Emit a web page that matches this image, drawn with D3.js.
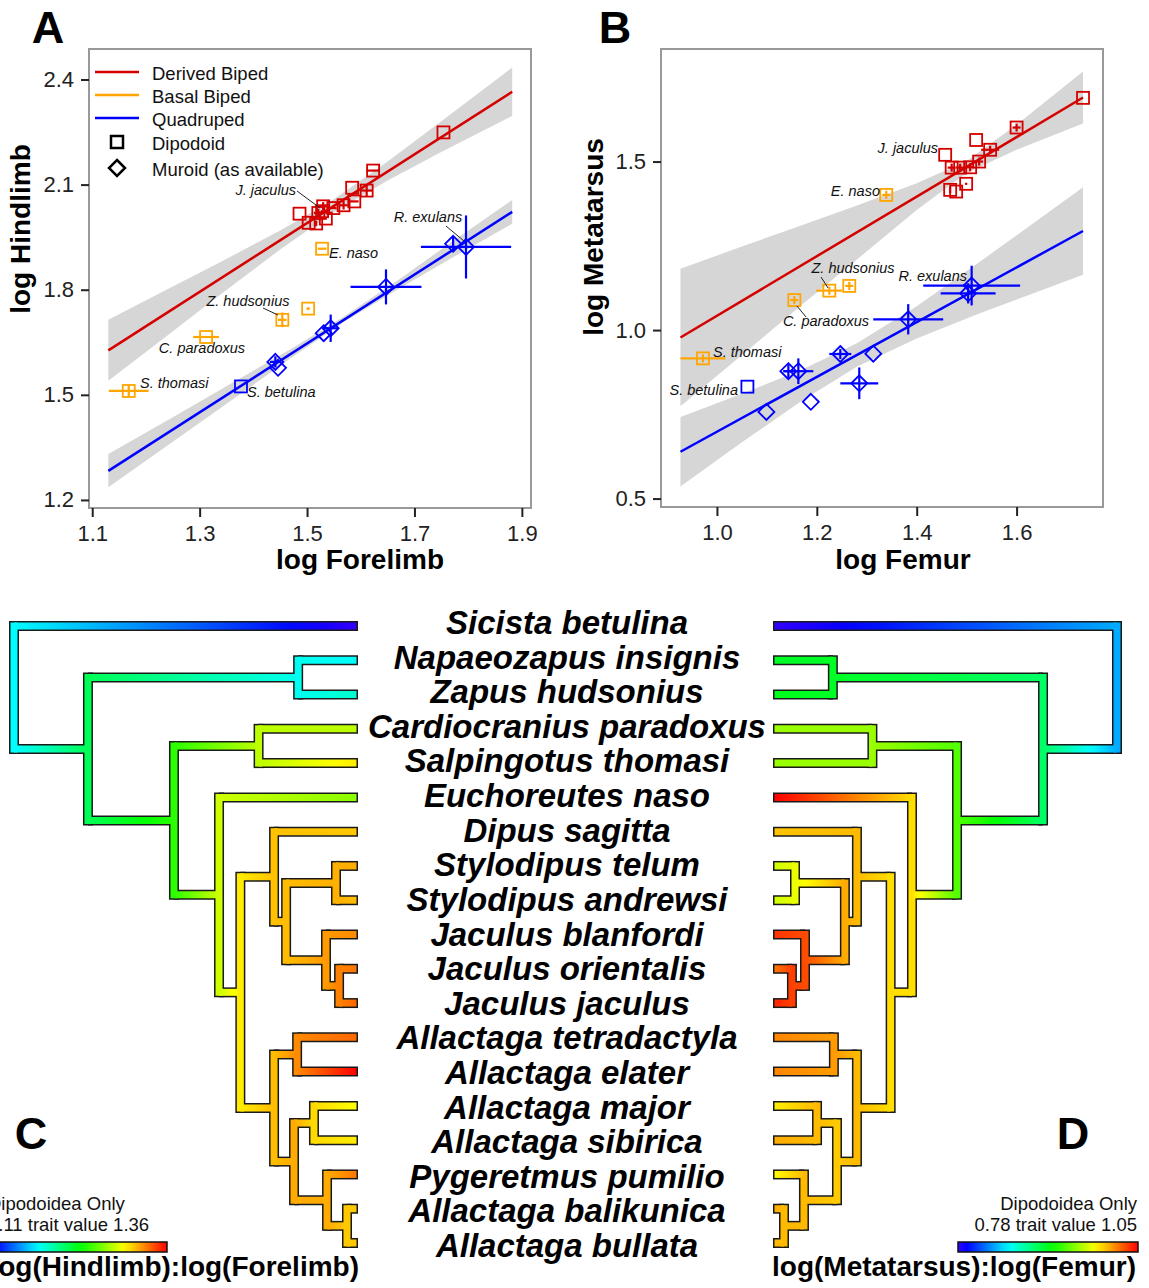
<!DOCTYPE html>
<meta charset="utf-8"/>
<style>
body { margin: 0; background: #fff; }
svg { display: block; font-family: "Liberation Sans", Arial, Helvetica, sans-serif; }
</style>
<svg width="1149" height="1288"></svg>
<script src="https://d3js.org/d3.v7.min.js"></script>
<script>

// ---------- panel A : log Forelimb vs log Hindlimb  [x, y, xerr, yerr, shape] ----------
var aDerived = [
  [1.754, 2.249, 0, 0, "s"], [1.623, 2.140, 0.013, 0, "s"], [1.584, 2.091, 0, 0, "s"],
  [1.611, 2.083, 0.010, 0.018, "s"], [1.588, 2.052, 0.008, 0, "s"], [1.568, 2.041, 0.008, 0.012, "s"],
  [1.549, 2.033, 0.006, 0, "s"], [1.530, 2.038, 0.008, 0.012, "s"], [1.528, 2.024, 0.002, 0, "s"],
  [1.535, 2.003, 0.002, 0, "s"], [1.486, 2.017, 0, 0, "s"], [1.503, 1.991, 0, 0, "s"],
  [1.517, 1.989, 0, 0.008, "s"], [1.521, 2.019, 0.008, 0.012, "s"]
];
var aBasal = [
  [1.528, 1.917, 0.008, 0, "s"], [1.502, 1.746, 0.003, 0.003, "s"], [1.454, 1.714, 0.008, 0.021, "s"],
  [1.312, 1.665, 0.024, 0, "s"], [1.168, 1.511, 0.037, 0.015, "s"]
];
var aQuad = [
  [1.377, 1.524, 0, 0, "s"], [1.441, 1.594, 0.010, 0.016, "d"], [1.446, 1.577, 0, 0, "d"],
  [1.531, 1.676, 0, 0, "d"], [1.544, 1.690, 0.015, 0.039, "d"], [1.647, 1.808, 0.066, 0.050, "d"],
  [1.772, 1.931, 0, 0.020, "d"], [1.796, 1.922, 0.084, 0.090, "d"]
];
var aDerivedFit = [[1.13, 1.627], [1.882, 2.365]];
var aQuadFit = [[1.13, 1.283], [1.882, 2.022]];
// confidence bands [x, lower, upper]
var aDerivedBand = [[1.13, 1.540, 1.714], [1.24, 1.669, 1.801], [1.34, 1.788, 1.880], [1.45, 1.915, 1.969],
  [1.55, 2.022, 2.058], [1.65, 2.112, 2.166], [1.75, 2.193, 2.281], [1.882, 2.296, 2.434]];
var aQuadBand = [[1.13, 1.236, 1.331], [1.25, 1.366, 1.436], [1.37, 1.496, 1.542], [1.47, 1.605, 1.631],
  [1.57, 1.709, 1.725], [1.67, 1.802, 1.828], [1.77, 1.891, 1.937], [1.882, 1.988, 2.056]];
var aLabels = [
  ["J. jaculus", 1.4794, 2.0703, "end", [1.4813, 2.0817, 1.5241, 2.0332]],
  ["R. exulans", 1.7252, 1.9932, "middle", [1.7587, 1.9818, 1.7922, 1.9390]],
  ["E. naso", 1.5409, 1.8905, "start", null],
  ["Z. hudsonius", 1.3900, 1.7535, "middle", [1.4180, 1.7478, 1.4459, 1.7278]],
  ["C. paradoxus", 1.3044, 1.6193, "middle", null],
  ["S. thomasi", 1.1890, 1.5195, "start", null],
  ["S. betulina", 1.3882, 1.4938, "start", null]
];
var aTicksX = [1.1, 1.3, 1.5, 1.7, 1.9];
var aTicksY = [1.2, 1.5, 1.8, 2.1, 2.4];

// ---------- panel B : log Femur vs log Metatarsus ----------
var bDerived = [
  [1.733, 1.689, 0, 0, "s"], [1.600, 1.601, 0.008, 0.012, "s"], [1.519, 1.564, 0, 0, "s"],
  [1.547, 1.535, 0.018, 0.012, "s"], [1.457, 1.520, 0, 0, "s"], [1.525, 1.500, 0.008, 0.012, "s"],
  [1.507, 1.483, 0.008, 0.012, "s"], [1.487, 1.482, 0.008, 0.012, "s"], [1.470, 1.482, 0.008, 0.012, "s"],
  [1.499, 1.434, 0.002, 0.002, "s"], [1.467, 1.416, 0, 0.010, "s"], [1.479, 1.411, 0, 0, "s"]
];
var bBasal = [
  [1.339, 1.401, 0.008, 0.012, "s"], [1.265, 1.131, 0.008, 0.012, "s"], [1.225, 1.117, 0.026, 0.012, "s"],
  [1.155, 1.089, 0.008, 0.012, "s"], [0.972, 0.916, 0.045, 0.012, "s"]
];
var bQuad = [
  [1.061, 0.832, 0, 0, "s"], [1.099, 0.757, 0, 0, "d"], [1.188, 0.787, 0, 0, "d"],
  [1.143, 0.878, 0.010, 0.020, "d"], [1.163, 0.878, 0.030, 0.038, "d"], [1.247, 0.929, 0.022, 0.015, "d"],
  [1.313, 0.930, 0, 0, "d"], [1.285, 0.842, 0.038, 0.047, "d"], [1.383, 1.032, 0.070, 0.045, "d"],
  [1.510, 1.132, 0.097, 0.059, "d"], [1.503, 1.109, 0.055, 0.030, "d"]
];
var bDerivedFit = [[0.927, 0.978], [1.733, 1.690]];
var bQuadFit = [[0.927, 0.639], [1.733, 1.294]];
var bDerivedBand = [[0.927, 0.774, 1.182], [1.05, 0.926, 1.248], [1.17, 1.075, 1.311], [1.29, 1.221, 1.375],
  [1.40, 1.356, 1.436], [1.50, 1.466, 1.502], [1.60, 1.535, 1.609], [1.733, 1.613, 1.767]];
var bQuadBand = [[0.927, 0.536, 0.742], [1.05, 0.667, 0.811], [1.17, 0.790, 0.882], [1.28, 0.891, 0.961],
  [1.40, 0.975, 1.071], [1.52, 1.046, 1.196], [1.63, 1.107, 1.313], [1.733, 1.164, 1.424]];
var bLabels = [
  ["J. jaculus", 1.4427, 1.5254, "end", null],
  ["E. naso", 1.3265, 1.3978, "end", null],
  ["Z. hudsonius", 1.2725, 1.1694, "middle", [1.2084, 1.1575, 1.2224, 1.1249]],
  ["C. paradoxus", 1.2184, 1.0121, "middle", [1.1603, 1.0714, 1.1783, 1.0388]],
  ["S. thomasi", 0.9921, 0.9201, "start", null],
  ["S. betulina", 1.0422, 0.8073, "end", null],
  ["R. exulans", 1.5007, 1.1456, "end", null]
];
var bTicksX = [1.0, 1.2, 1.4, 1.6];
var bTicksY = [0.5, 1.0, 1.5];

// ---------- panels C, D : tree ----------
var taxa = ["Sicista betulina", "Napaeozapus insignis", "Zapus hudsonius", "Cardiocranius paradoxus",
  "Salpingotus thomasi", "Euchoreutes naso", "Dipus sagitta", "Stylodipus telum", "Stylodipus andrewsi",
  "Jaculus blanfordi", "Jaculus orientalis", "Jaculus jaculus", "Allactaga tetradactyla", "Allactaga elater",
  "Allactaga major", "Allactaga sibirica", "Pygeretmus pumilio", "Allactaga balikunica", "Allactaga bullata"];
var tipHindFore = [1.110, 1.182, 1.193, 1.285, 1.305, 1.273, 1.313, 1.320, 1.316, 1.328,
  1.332, 1.336, 1.336, 1.360, 1.300, 1.305, 1.332, 1.313, 1.313];
var tipMetaFem = [0.780, 0.912, 0.915, 0.960, 0.960, 1.050, 1.001, 0.973, 0.973, 1.037,
  1.020, 1.041, 1.016, 1.016, 0.990, 1.007, 0.986, 1.007, 1.003];

var nodeIds = ["root", "A", "NZ", "B", "CS", "C", "D", "DI", "SJ", "ST", "JA", "JJ", "AL", "TE", "MB", "MS", "PB", "BB"];
var nodeKids = [
  ["Sicista betulina", "A"], ["NZ", "B"], ["Napaeozapus insignis", "Zapus hudsonius"], ["CS", "C"],
  ["Cardiocranius paradoxus", "Salpingotus thomasi"], ["Euchoreutes naso", "D"], ["DI", "AL"],
  ["Dipus sagitta", "SJ"], ["ST", "JA"], ["Stylodipus telum", "Stylodipus andrewsi"],
  ["Jaculus blanfordi", "JJ"], ["Jaculus orientalis", "Jaculus jaculus"], ["TE", "MB"],
  ["Allactaga tetradactyla", "Allactaga elater"], ["MS", "PB"], ["Allactaga major", "Allactaga sibirica"],
  ["Pygeretmus pumilio", "BB"], ["Allactaga balikunica", "Allactaga bullata"]
];
// relative node age, root = 0, tips = 1
var nodeDepth = [0, 0.215, 0.826, 0.465, 0.711, 0.596, 0.658, 0.756, 0.791, 0.936, 0.907, 0.945,
  0.756, 0.823, 0.814, 0.872, 0.910, 0.968];
var nodeHindFore = [1.181, 1.221, 1.185, 1.251, 1.285, 1.289, 1.305, 1.315, 1.316, 1.319, 1.324, 1.330,
  1.316, 1.328, 1.320, 1.309, 1.320, 1.313];
var nodeMetaFem = [0.836, 0.896, 0.912, 0.942, 0.960, 0.994, 0.994, 1.003, 1.007, 0.981, 1.031, 1.034,
  1.003, 1.011, 0.999, 1.003, 1.003, 1.003];
var rangeHindFore = [1.11, 1.36];
var rangeMetaFem = [0.78, 1.05];

// ------------------------------------------------------------------
var svg = d3.select("svg");
var defs = svg.append("defs");
var RED = "#d40000", ORANGE = "#ffa500", BLUE = "#0000ff";

function scatter(cfg) {
  var g = svg.append("g");
  var x = d3.scaleLinear().domain(cfg.xlim).range(cfg.xr);
  var y = d3.scaleLinear().domain(cfg.ylim).range(cfg.yr);

  cfg.bands.forEach(function(b) {
    g.append("path").datum(b)
      .attr("fill", "#d6d6d6")
      .attr("d", d3.area().x(function(d) { return x(d[0]); })
        .y0(function(d) { return y(d[1]); }).y1(function(d) { return y(d[2]); }));
  });
  cfg.fits.forEach(function(f) {
    g.append("path").datum(f[0])
      .attr("fill", "none").attr("stroke", f[1]).attr("stroke-width", 2.5)
      .attr("d", d3.line().x(function(d) { return x(d[0]); }).y(function(d) { return y(d[1]); }));
  });

  cfg.points.forEach(function(set) {
    var col = set[1];
    set[0].forEach(function(p) {
      var cx = x(p[0]), cy = y(p[1]);
      if (p[2] > 0) g.append("line").attr("x1", x(p[0] - p[2])).attr("x2", x(p[0] + p[2]))
        .attr("y1", cy).attr("y2", cy).attr("stroke", col).attr("stroke-width", 2.2);
      if (p[3] > 0) g.append("line").attr("y1", y(p[1] - p[3])).attr("y2", y(p[1] + p[3]))
        .attr("x1", cx).attr("x2", cx).attr("stroke", col).attr("stroke-width", 2.2);
      symbol(g, p[4], cx, cy, col, 1.8);
    });
  });

  cfg.labels.forEach(function(l) {
    g.append("text").attr("x", x(l[1])).attr("y", y(l[2]))
      .attr("text-anchor", l[3]).style("font-size", "14.5px").style("font-style", "italic")
      .attr("fill", "#111").text(l[0]);
    if (l[4]) g.append("line").attr("x1", x(l[4][0])).attr("y1", y(l[4][1]))
      .attr("x2", x(l[4][2])).attr("y2", y(l[4][3])).attr("stroke", "#222").attr("stroke-width", 1);
  });

  // box
  g.append("rect").attr("x", cfg.xr[0]).attr("y", cfg.yr[1])
    .attr("width", cfg.xr[1] - cfg.xr[0]).attr("height", cfg.yr[0] - cfg.yr[1])
    .attr("fill", "none").attr("stroke", "#999").attr("stroke-width", 2);

  var ax = g.append("g").attr("transform", "translate(0," + cfg.yr[0] + ")")
    .call(d3.axisBottom(x).tickValues(cfg.tx).tickFormat(d3.format(".1f")).tickSize(9).tickPadding(8));
  var ay = g.append("g").attr("transform", "translate(" + cfg.xr[0] + ",0)")
    .call(d3.axisLeft(y).tickValues(cfg.ty).tickFormat(d3.format(".1f")).tickSize(8).tickPadding(7));
  [ax, ay].forEach(function(a) {
    a.select(".domain").remove();
    a.selectAll("line").attr("stroke", "#222").attr("stroke-width", 2);
    a.selectAll("text").attr("fill", "#222").style("font-size", "22px").style("font-family", null);
  });

  g.append("text").attr("x", cfg.xt[0]).attr("y", cfg.xt[1]).attr("text-anchor", "middle")
    .style("font-size", "28px").style("font-weight", "bold").text(cfg.xlab);
  g.append("text").attr("transform", "translate(" + cfg.yt[0] + "," + cfg.yt[1] + ") rotate(-90)")
    .attr("text-anchor", "middle").style("font-size", "28px").style("font-weight", "bold").text(cfg.ylab);
  return g;
}

function symbol(g, shape, cx, cy, col, sw) {
  if (shape === "s") {
    g.append("rect").attr("x", cx - 6).attr("y", cy - 6).attr("width", 12).attr("height", 12)
      .attr("fill", "none").attr("stroke", col).attr("stroke-width", sw);
  } else {
    var r = 8;
    g.append("path").attr("d", "M" + cx + "," + (cy - r) + "L" + (cx + r) + "," + cy + "L" + cx + "," + (cy + r) + "L" + (cx - r) + "," + cy + "Z")
      .attr("fill", "none").attr("stroke", col).attr("stroke-width", sw);
  }
}

var gA = scatter({
  xlim: [1.094, 1.917], xr: [89, 531], ylim: [1.177, 2.487], yr: [508, 49],
  bands: [aDerivedBand, aQuadBand], fits: [[aDerivedFit, RED], [aQuadFit, BLUE]],
  points: [[aDerived, RED], [aBasal, ORANGE], [aQuad, BLUE]], labels: aLabels,
  tx: aTicksX, ty: aTicksY, xlab: "log Forelimb", ylab: "log Hindlimb", xt: [360, 569], yt: [30, 229]
});
var gB = scatter({
  xlim: [0.888, 1.773], xr: [661, 1103], ylim: [0.475, 1.834], yr: [507, 49],
  bands: [bDerivedBand, bQuadBand], fits: [[bDerivedFit, RED], [bQuadFit, BLUE]],
  points: [[bDerived, RED], [bBasal, ORANGE], [bQuad, BLUE]], labels: bLabels,
  tx: bTicksX, ty: bTicksY, xlab: "log Femur", ylab: "log Metatarsus", xt: [903, 569], yt: [603, 237]
});

// legend of panel A
var legendItems = [["Derived Biped", RED, "line"], ["Basal Biped", ORANGE, "line"], ["Quadruped", BLUE, "line"],
  ["Dipodoid", "#000", "s"], ["Muroid (as available)", "#000", "d"]];
var legY = [72, 95, 118, 142, 168];
var leg = svg.append("g");
legendItems.forEach(function(it, i) {
  if (it[2] === "line") leg.append("line").attr("x1", 95).attr("x2", 139).attr("y1", legY[i]).attr("y2", legY[i])
    .attr("stroke", it[1]).attr("stroke-width", 2.5);
  else symbol(leg, it[2], 117, legY[i], it[1], 2.5);
  leg.append("text").attr("x", 152).attr("y", legY[i] + 8).style("font-size", "18.5px").attr("fill", "#111").text(it[0]);
});

// panel letters
[["A", 48, 43], ["B", 615, 43], ["C", 31, 1149], ["D", 1073, 1149]].forEach(function(p) {
  svg.append("text").attr("x", p[1]).attr("y", p[2]).attr("text-anchor", "middle")
    .style("font-size", "45px").style("font-weight", "bold").text(p[0]);
});

// ---------- trees ----------
var yTip = d3.scalePoint().domain(taxa).range([626, 1243]);
var yName = d3.scalePoint().domain(taxa).range([634, 1257]);

function drawTree(id, tipVals, nodeVals, range, xr) {
  var g = svg.append("g");
  var hue = d3.scaleLinear().domain(range).range([252, 0]).clamp(true);
  function color(v) { return d3.hsl(hue(v), 1, 0.5).formatHex(); }
  var val = {}, depth = {}, kids = {}, ypos = {};
  taxa.forEach(function(t, i) { val[t] = tipVals[i]; depth[t] = 1; });
  nodeIds.forEach(function(n, i) { val[n] = nodeVals[i]; depth[n] = nodeDepth[i]; kids[n] = nodeKids[i]; });
  function place(n) {
    if (!kids[n]) return (ypos[n] = yTip(n));
    return (ypos[n] = (place(kids[n][0]) + place(kids[n][1])) / 2);
  }
  place("root");
  var x = d3.scaleLinear().domain([0, 1]).range(xr);
  var dir = xr[1] > xr[0] ? 1 : -1;
  var edges = [];
  nodeIds.forEach(function(n) { kids[n].forEach(function(c) { edges.push([n, c]); }); });

  var outline = g.append("g"), fill = g.append("g");
  nodeIds.forEach(function(n) {
    var y1 = ypos[kids[n][0]], y2 = ypos[kids[n][1]], nx = x(depth[n]);
    outline.append("line").attr("x1", nx).attr("x2", nx).attr("y1", y1 - 5).attr("y2", y2 + 5)
      .attr("stroke", "#1a1a1a").attr("stroke-width", 10);
    fill.append("line").attr("x1", nx).attr("x2", nx).attr("y1", y1 - 3.5).attr("y2", y2 + 3.5)
      .attr("stroke", color(val[n])).attr("stroke-width", 7);
  });
  edges.forEach(function(e, i) {
    var p = e[0], c = e[1], yc = ypos[c], x1 = x(depth[p]), x2 = x(depth[c]);
    var tip = !kids[c];
    outline.append("line").attr("x1", x1).attr("x2", x2).attr("y1", yc).attr("y2", yc)
      .attr("stroke", "#1a1a1a").attr("stroke-width", 10);
    var gid = id + "g" + i, xe = tip ? x2 - 1.5 * dir : x2;
    var grad = defs.append("linearGradient").attr("id", gid).attr("gradientUnits", "userSpaceOnUse")
      .attr("x1", x1).attr("x2", xe).attr("y1", yc).attr("y2", yc);
    d3.range(0, 1.0001, 0.1).forEach(function(k) {
      grad.append("stop").attr("offset", k).attr("stop-color", color(val[p] + (val[c] - val[p]) * k));
    });
    fill.append("line").attr("x1", x1).attr("x2", xe).attr("y1", yc).attr("y2", yc)
      .attr("stroke", "url(#" + gid + ")").attr("stroke-width", 7);
  });
  return color;
}

var colC = drawTree("c", tipHindFore, nodeHindFore, rangeHindFore, [14, 358]);
var colD = drawTree("d", tipMetaFem, nodeMetaFem, rangeMetaFem, [1117, 773]);

svg.append("g").selectAll("text").data(taxa).join("text")
  .attr("x", 567).attr("y", function(d) { return yName(d); })
  .attr("text-anchor", "middle").style("font-size", "33px")
  .style("font-weight", "bold").style("font-style", "italic").attr("fill", "#000")
  .text(function(d) { return d; });

// colour bar legends
function colorBar(id, range, color, x0, anchor, tx, title, titleX, titleAnchor) {
  var grad = defs.append("linearGradient").attr("id", id);
  d3.range(0, 1.0001, 0.05).forEach(function(k) {
    grad.append("stop").attr("offset", k).attr("stop-color", color(range[0] + (range[1] - range[0]) * k));
  });
  svg.append("rect").attr("x", x0).attr("y", 1242).attr("width", 180).attr("height", 10)
    .attr("fill", "url(#" + id + ")").attr("stroke", "#111").attr("stroke-width", 1.5);
  svg.append("text").attr("x", tx).attr("y", 1210).attr("text-anchor", anchor)
    .style("font-size", "18.5px").attr("fill", "#111").text("Dipodoidea Only");
  svg.append("text").attr("x", tx).attr("y", 1231).attr("text-anchor", anchor)
    .style("font-size", "18.5px").attr("fill", "#111")
    .text(d3.format(".2f")(range[0]) + " trait value " + d3.format(".2f")(range[1]));
  svg.append("text").attr("x", titleX).attr("y", 1276).attr("text-anchor", titleAnchor)
    .style("font-size", "28px").style("font-weight", "bold").text(title);
}
colorBar("barC", rangeHindFore, colC, -13, "start", -12, "log(Hindlimb):log(Forelimb)", 359, "end");
colorBar("barD", rangeMetaFem, colD, 958, "end", 1137, "log(Metatarsus):log(Femur)", 772, "start");

</script>
